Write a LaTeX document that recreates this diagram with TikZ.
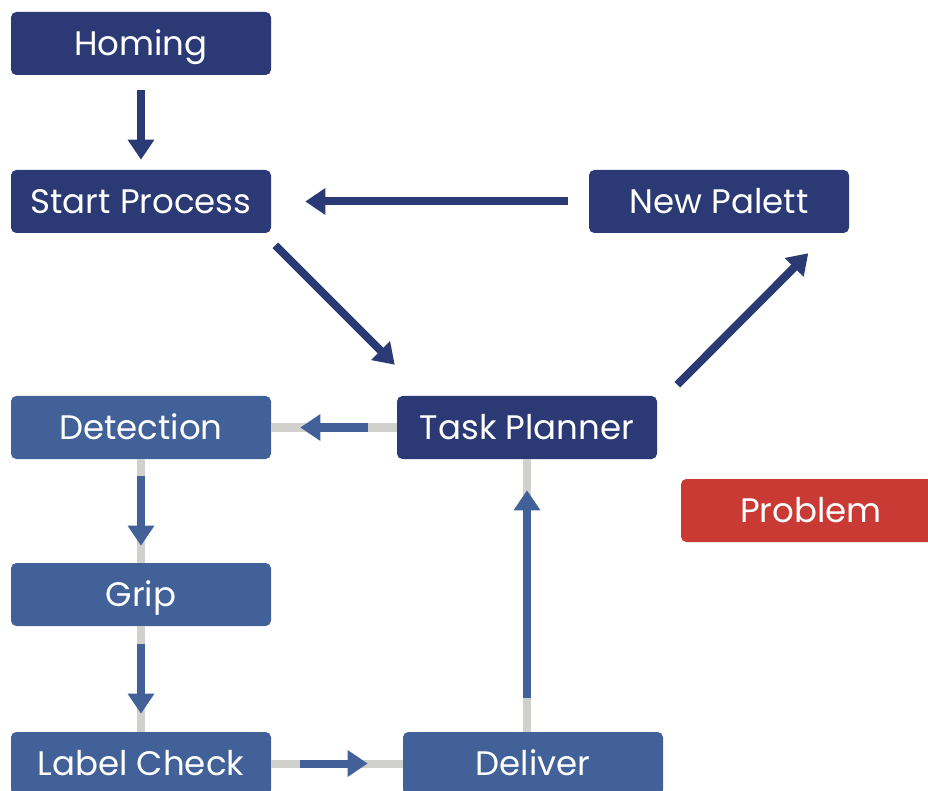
\documentclass[tikz,border=0pt]{standalone}
\usepackage{fontspec}
\setmainfont{Poppins}
\usetikzlibrary{arrows.meta,calc}
\definecolor{navy}{HTML}{2B3A74}
\definecolor{steel}{HTML}{416198}
\definecolor{alert}{HTML}{C93A34}
\definecolor{railgray}{HTML}{D0D0CC}
\begin{document}
\begin{tikzpicture}[x = 0.75pt, y = -0.75pt,
	box/.style = {minimum width = 195pt, minimum height = 47.25pt, inner sep = 0pt,
		rounded corners = 4pt, text = white, text height = 18pt, text depth = 0pt,
		font = \fontsize{25.5}{30}\selectfont},
	darkbox/.style = {box, fill = navy},
	stepbox/.style = {box, fill = steel},
	warnbox/.style = {box, fill = alert},
	darr/.style = {navy, line width = 6pt, -{Triangle[width = 19pt, length = 15pt]}},
	barr/.style = {steel, line width = 6pt, -{Triangle[width = 19pt, length = 15pt]}},
	rail/.style = {railgray, line width = 6pt}]
	\useasboundingbox (0,0) rectangle (928,791);

	% main loop
	\node[darkbox] (home)  at (141, 43.5)  {Homing};
	\node[darkbox] (start) at (141, 201.5) {Start Process};
	\node[darkbox] (np)    at (719, 201.5) {New Palett};
	\node[darkbox] (tp)    at (527, 427.5) {Task Planner};

	% single task
	\node[stepbox] (det)  at (141, 427.5) {Detection};
	\node[stepbox] (grip) at (141, 594.5) {Grip};
	\node[stepbox] (lab)  at (141, 763.5) {Label Check};
	\node[stepbox] (del)  at (533, 763.5) {Deliver};

	\node[warnbox] (prob) at (811, 510.5) {Problem};

	% rails
	\draw[rail] (tp.west) -- (det.east);
	\draw[rail] (det.south) -- (grip.north);
	\draw[rail] (grip.south) -- (lab.north);
	\draw[rail] (lab.east) -- (lab.east -| del.west);
	\draw[rail] (tp.south |- del.north) -- (tp.south);

	\draw[barr, shorten <= 21.75pt, shorten >= 21.75pt] (tp.west) -- (det.east);
	\draw[barr, shorten <= 12.75pt, shorten >= 12.75pt] (det.south) -- (grip.north);
	\draw[barr, shorten <= 13.5pt, shorten >= 13.5pt] (grip.south) -- (lab.north);
	\draw[barr, shorten <= 21.75pt, shorten >= 26.25pt] (lab.east) -- (lab.east -| del.west);
	\draw[barr, shorten <= 25.5pt, shorten >= 23.25pt] (tp.south |- del.north) -- (tp.south);

	\draw[darr, shorten <= 11.25pt, shorten >= 7.5pt] (home.south) -- (start.north);
	\draw[darr, shorten <= 15.75pt, shorten >= 25.5pt] (np.west) -- (start.east);
	\draw[darr] ($(start.south east)+(4,12)$) -- ($(tp.north west)+(-2,-31)$);
	\draw[darr] ($(tp.north east)+(20,-11)$) -- ($(np.south east)+(-41,20)$);
\end{tikzpicture}
\end{document}
